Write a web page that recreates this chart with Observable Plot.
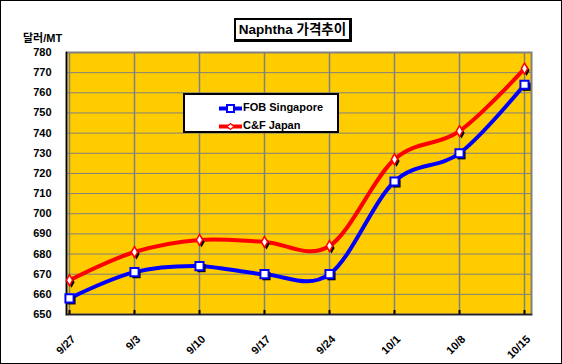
<!DOCTYPE html>
<html><head><meta charset="utf-8">
<script src="https://cdn.jsdelivr.net/npm/d3@7"></script>
<script src="https://cdn.jsdelivr.net/npm/@observablehq/plot@0.6"></script>
<style>
body{margin:0;background:#fff;}
#wrap{position:relative;width:562px;height:364px;overflow:hidden;font-family:"Liberation Sans",Arial,"Noto Sans CJK KR",sans-serif;}
#chart{position:absolute;left:0;top:0;}
#border{position:absolute;left:0;top:0;width:560px;height:362px;border:1px solid #000;pointer-events:none;}
#title{position:absolute;left:234px;top:18px;width:113px;height:19px;border:2px solid #000;border-right-width:3px;border-bottom-width:3px;background:#fff;font-weight:bold;font-size:13.5px;line-height:19px;text-align:center;white-space:nowrap;font-family:"Liberation Sans",Arial,"Noto Sans CJK KR",sans-serif;}
#unit{position:absolute;left:23px;top:29px;font-weight:bold;font-size:11px;white-space:nowrap;font-family:"Liberation Sans",Arial,"Noto Sans CJK KR",sans-serif;}
#legend{position:absolute;left:183px;top:93px;width:152px;height:36px;border:2px solid #000;background:#fff;}
.item{position:absolute;left:34px;height:14px;font-weight:bold;font-size:11px;line-height:14px;white-space:nowrap;}
.item svg{vertical-align:middle;margin-right:1px;}
</style></head>
<body>
<div id="wrap">
  <div id="chart"></div>
  <div id="unit"></div>
  <div id="title"></div>
  <div id="legend"></div>
  <div id="border"></div>
</div>
<script>
const titleText = "Naphtha 가격추이";
const unitText = "달러/MT";
const dates = ["9/27","9/3","9/10","9/17","9/24","10/1","10/8","10/15"];
const fobSingapore = [658,671,674,670,670,716,730,764];
const cfJapan = [667,681,687,686,684,727,741,772];
const yTicks = [650,660,670,680,690,700,710,720,730,740,750,760,770,780];
const seriesNames = ["FOB Singapore","C&F Japan"];
const seriesColors = ["#0000FF","#FF0000"];

const data = dates.map((d,i)=>({date:d, fob:fobSingapore[i], cf:cfJapan[i]}));

const chart = Plot.plot({
  width:562, height:364,
  marginLeft:66, marginRight:31, marginTop:52, marginBottom:50,
  style:{fontFamily:"'Liberation Sans', Arial, sans-serif", background:"transparent", overflow:"visible"},
  x:{type:"point", domain:dates, range:[66,526], padding:0, label:null},
  y:{domain:[650,780], label:null},
  marks:[
    Plot.frame({fill:"#FFCC00"}),
    Plot.gridY(yTicks,{stroke:"#808080", strokeOpacity:1, strokeWidth:1}),
    Plot.gridX(dates,{stroke:"#808080", strokeOpacity:1, strokeWidth:1.5}),
    Plot.frame({stroke:"#808080", strokeWidth:2}),
    Plot.frame({anchor:"left", stroke:"#000", strokeWidth:1.5}),
    Plot.frame({anchor:"bottom", stroke:"#222", strokeWidth:1.5}),
    Plot.ruleX(dates,{y1:650, y2:652, stroke:"#000", strokeWidth:2}),
    Plot.axisY(yTicks,{tickSize:0, tickPadding:15, fontWeight:"bold", fontSize:11, fill:"#000", label:null}),
    Plot.axisX(dates,{tickSize:0, tickRotate:-45, fontWeight:"bold", fontSize:11, fill:"#000", label:null, dx:4, dy:11}),
    Plot.line(data,{x:"date", y:"fob", stroke:seriesColors[0], strokeWidth:4, curve:"cardinal"}),
    Plot.line(data,{x:"date", y:"cf", stroke:seriesColors[1], strokeWidth:4, curve:"cardinal"}),
    Plot.dot(data,{x:"date", y:"fob", symbol:"square", r:4.6, fill:"#000", dx:2, dy:2}),
    Plot.dot(data,{x:"date", y:"fob", symbol:"square", r:4.6, fill:"#fff", stroke:seriesColors[0], strokeWidth:2}),
    Plot.dot(data,{x:"date", y:"cf", symbol:"diamond", r:3.3, fill:"#000", dx:2, dy:2}),
    Plot.dot(data,{x:"date", y:"cf", symbol:"diamond", r:3.3, fill:"#fff", stroke:seriesColors[1], strokeWidth:1.5})
  ]
});
document.getElementById("chart").appendChild(chart);
document.getElementById("title").textContent = titleText;
document.getElementById("unit").textContent = unitText;

const legend = document.getElementById("legend");
seriesNames.forEach((name,i)=>{
  const div = document.createElement("div");
  div.className = "item";
  div.style.top = (5 + i*18) + "px";
  const marker = i===0
    ? `<rect x="8" y="3" width="7" height="7" fill="#fff" stroke="${seriesColors[i]}" stroke-width="2"/>`
    : `<path d="M11.5 3.5 L15 6.5 L11.5 9.5 L8 6.5Z" fill="#fff" stroke="${seriesColors[i]}" stroke-width="1.2"/>`;
  div.innerHTML = `<svg width="23" height="13"><line x1="0" x2="23" y1="6.5" y2="6.5" stroke="${seriesColors[i]}" stroke-width="4"/>${marker}</svg>${name}`;
  legend.appendChild(div);
});
</script>
</body></html>
